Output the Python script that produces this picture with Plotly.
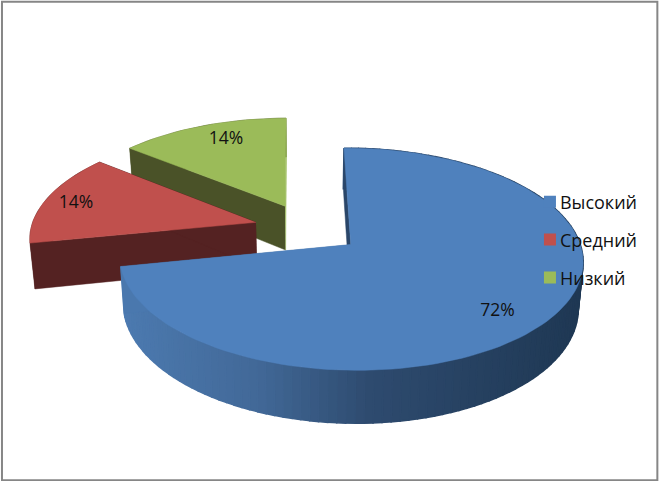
import math
import plotly.graph_objects as go

categories = ["Высокий", "Средний", "Низкий"]
values = [72, 14, 14]
labels = ["72%", "14%", "14%"]
top_colors = ["#4F81BD", "#C0504D", "#9BBB59"]
far_cut_colors = ["#2A4669", "#542222", "#4A5228"]
near_cut_colors = ["#4A78AE", "#542222", "#9BBB59"]

ROT = -0.5      # first slice start, degrees clockwise from north
PULL = 0.24     # explosion of every slice
CX, CY = 308.0, 228.3
A, B, K = 225.0, 104.9, 0.13
H, SHRINK = 45.0, 0.982
LABEL_R = [0.81, 0.85, 0.79]
LABEL_TURN = [5.5, -1.5, 3.0]


def project(X, Y, low=False):
    w = 1 / (1 + K * Y)
    s = SHRINK if low else 1.0
    return CX + A * X * w * s, CY - B * Y * w + (H * w if low else 0.0)


def ground(theta, r, bis):
    t, b = math.radians(theta), math.radians(bis)
    return r * math.sin(t) + PULL * math.sin(b), r * math.cos(t) + PULL * math.cos(b)


def lerp(stops, t):
    for (t0, c0), (t1, c1) in zip(stops, stops[1:]):
        if t <= t1:
            f = (t - t0) / (t1 - t0)
            return "rgb(%d,%d,%d)" % tuple(round(a + (b - a) * f) for a, b in zip(c0, c1))
    return "rgb(%d,%d,%d)" % stops[-1][1]


blue_grad = [(0.0, (76, 122, 176)), (0.3, (66, 105, 152)), (0.55, (46, 75, 111)), (1.0, (31, 56, 84))]

fig = go.Figure()


def poly(xs, ys, color, lw=0.5):
    fig.add_trace(go.Scatter(x=xs, y=ys, mode="lines", fill="toself", fillcolor=color,
                             line=dict(color=color, width=lw), hoverinfo="skip", showlegend=False))


# slice angle spans
spans = []
start = ROT
for v in values:
    end = start + v / sum(values) * 360
    spans.append((start, end))
    start = end

label_pts = []
for i in [2, 1, 0]:
    a0, a1 = spans[i]
    bis = (a0 + a1) / 2
    n = max(6, int((a1 - a0) / 2))
    thetas = [a0 + (a1 - a0) * j / n for j in range(n + 1)]
    # outer wall
    if i == 0:
        for t0, t1 in zip(thetas, thetas[1:]):
            p = [ground(t0, 1, bis), ground(t1, 1, bis)]
            up = [project(*q) for q in p]
            lo = [project(*q, low=True) for q in p]
            xs = [up[0][0], up[1][0], lo[1][0], lo[0][0], up[0][0]]
            ys = [up[0][1], up[1][1], lo[1][1], lo[0][1], up[0][1]]
            poly(xs, ys, lerp(blue_grad, min(1, max(0, (up[0][0] - 122) / 458))), lw=1.5)
    else:
        up = [project(*ground(t, 1, bis)) for t in thetas]
        lo = [project(*ground(t, 1, bis), low=True) for t in thetas]
        poly([p[0] for p in up + lo[::-1]], [p[1] for p in up + lo[::-1]], far_cut_colors[i])
    # cut walls
    apex = ground(0, 0, bis)
    for th, col in ((a0, far_cut_colors[i]), (a1, near_cut_colors[i])):
        e = ground(th, 1, bis)
        q = [project(*apex), project(*e), project(*e, low=True), project(*apex, low=True)]
        poly([p[0] for p in q], [p[1] for p in q], col)
    # top face
    pts = [project(*apex)] + [project(*ground(t, 1, bis)) for t in thetas]
    poly([p[0] for p in pts], [p[1] for p in pts], top_colors[i])
    lx, ly = ground(bis + LABEL_TURN[i], LABEL_R[i], bis)
    label_pts.append((i, project(lx, ly)))

# percentage labels
fig.add_trace(go.Scatter(x=[p[1][0] for p in label_pts], y=[p[1][1] for p in label_pts],
                         text=[labels[p[0]] for p in label_pts], mode="text",
                         textposition="middle center",
                         textfont=dict(family="Open Sans", size=17.5, color="#111111"),
                         hoverinfo="skip", showlegend=False))

# legend entries
for name, col in zip(categories, top_colors):
    fig.add_trace(go.Scatter(x=[None], y=[None], mode="markers", name=name, legendgroup=name,
                             marker=dict(symbol="square", size=12, color=col)))

fig.update_layout(
    width=659, height=481, autosize=False,
    margin=dict(l=0, r=0, t=0, b=0),
    paper_bgcolor="white", plot_bgcolor="white",
    xaxis=dict(range=[0, 659], visible=False, fixedrange=True),
    yaxis=dict(range=[481, 0], visible=False, fixedrange=True),
    legend=dict(x=0.789, y=0.6185, xanchor="left", yanchor="top", bgcolor="rgba(0,0,0,0)",
                tracegroupgap=11.5, itemwidth=30,
                font=dict(family="Open Sans", size=18, color="#111111")),
    shapes=[dict(type="rect", xref="paper", yref="paper", x0=0.0030, y0=0.0015, x1=0.9975, y1=0.9965,
                 line=dict(color="#868686", width=2), layer="above")],
)

post = """document.body.style.margin='0';
document.querySelectorAll('.legendpoints').forEach(function(g){g.setAttribute('transform','translate(10,0)');});"""
fig.write_html("out.html", post_script=post, config={"displayModeBar": False})
